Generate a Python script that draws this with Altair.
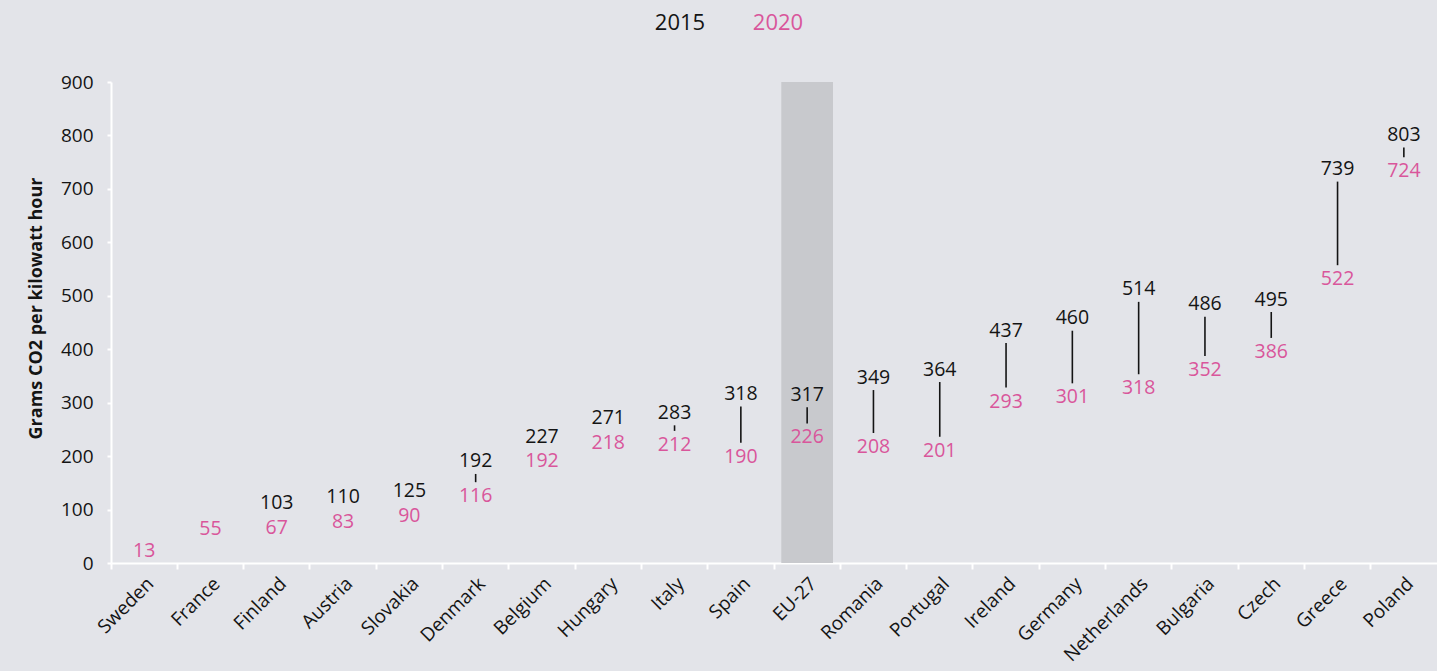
import altair as alt
import pandas as pd

countries = ["Sweden", "France", "Finland", "Austria", "Slovakia", "Denmark", "Belgium",
             "Hungary", "Italy", "Spain", "EU-27", "Romania", "Portugal", "Ireland",
             "Germany", "Netherlands", "Bulgaria", "Czech", "Greece", "Poland"]
v2015 = [None, None, 103, 110, 125, 192, 227, 271, 283, 318, 317, 349, 364, 437, 460,
         514, 486, 495, 739, 803]
v2020 = [13, 55, 67, 83, 90, 116, 192, 218, 212, 190, 226, 208, 201, 293, 301, 318,
         352, 386, 522, 724]
highlight = ["EU-27"]
years = ["2015", "2020"]

BG = "#e3e4e9"
PINK = "#d9569b"
INK = "#141414"
FONT = "Open Sans"

df = pd.DataFrame({"country": countries, "v2015": v2015, "v2020": v2020})
hl = pd.DataFrame({"country": highlight})

x = alt.X("country:N", sort=countries, title=None,
          scale=alt.Scale(paddingInner=0, paddingOuter=0),
          axis=alt.Axis(labelAngle=-45, labelAlign="right", labelBaseline="top",
                        labelFontSize=19, labelColor=INK, labelFont=FONT,
                        labelPadding=5, domainColor="white", domainWidth=2,
                        tickColor="white", tickWidth=2, tickSize=6, bandPosition=0))
yscale = alt.Scale(domain=[0, 900])
yaxis = alt.Axis(values=list(range(0, 901, 100)), grid=False, domainColor="white",
                 domainWidth=2, tickColor="white", tickWidth=2, tickSize=4,
                 labelFontSize=19, labelColor=INK, labelFont=FONT, labelPadding=14,
                 title="Grams CO2 per kilowatt hour", titleFontSize=18,
                 titleFontWeight="bold", titleFont=FONT, titleColor=INK,
                 titlePadding=15, titleY=226)

# label positions: keep the two labels of a country apart when values are close
base = alt.Chart(df).transform_calculate(
    a15="datum.v2015 - 2",
    a20="datum.v2020 + 9",
).transform_calculate(
    close="isValid(datum.v2015) && (datum.a15 - datum.a20 < 46)",
    mid="(datum.a15 + datum.a20) / 2",
).transform_calculate(
    l15="datum.close ? datum.mid + 23 : datum.a15",
    l20="datum.close ? datum.mid - 23 : datum.a20",
)

band = alt.Chart(hl).mark_bar(color="#c8c9cd", width=alt.RelativeBandSize(0.78)).encode(
    x=x, y=alt.datum(900, scale=yscale, axis=yaxis, type="quantitative"), y2=alt.datum(0))

rules = base.transform_filter(
    "isValid(datum.v2015) && datum.l15 - datum.l20 > 52"
).mark_rule(color=INK, strokeWidth=1.6, yOffset=12.5, y2Offset=-14).encode(
    x=x, y=alt.Y("l15:Q", scale=yscale, axis=yaxis), y2="l20:Q")

t15 = base.transform_filter("isValid(datum.v2015)").mark_text(
    color=INK, fontSize=19.5, font=FONT, baseline="middle").encode(
    x=x, y=alt.Y("l15:Q", scale=yscale, axis=yaxis), text=alt.Text("v2015:Q", format="d"))

t20 = base.mark_text(
    color=PINK, fontSize=19.5, font=FONT, baseline="middle").encode(
    x=x, y=alt.Y("l20:Q", scale=yscale, axis=yaxis), text=alt.Text("v2020:Q", format="d"))

leg15 = alt.Chart(pd.DataFrame({"t": [years[0]]})).mark_text(
    color=INK, fontSize=22, font=FONT, baseline="middle").encode(
    text="t:N", x=alt.value(569), y=alt.value(-59))
leg20 = alt.Chart(pd.DataFrame({"t": [years[1]]})).mark_text(
    color=PINK, fontSize=22, font=FONT, baseline="middle").encode(
    text="t:N", x=alt.value(667), y=alt.value(-59))

chart = alt.layer(band, rules, t15, t20, leg15, leg20).properties(
    width=1326, height=481,
    autosize=alt.AutoSizeParams(type="none"),
    padding={"left": 111, "top": 82, "right": 0, "bottom": 108},
    background=BG,
).configure_view(stroke=None)

chart.save("out.html", embed_options={"renderer": "svg", "actions": False})
